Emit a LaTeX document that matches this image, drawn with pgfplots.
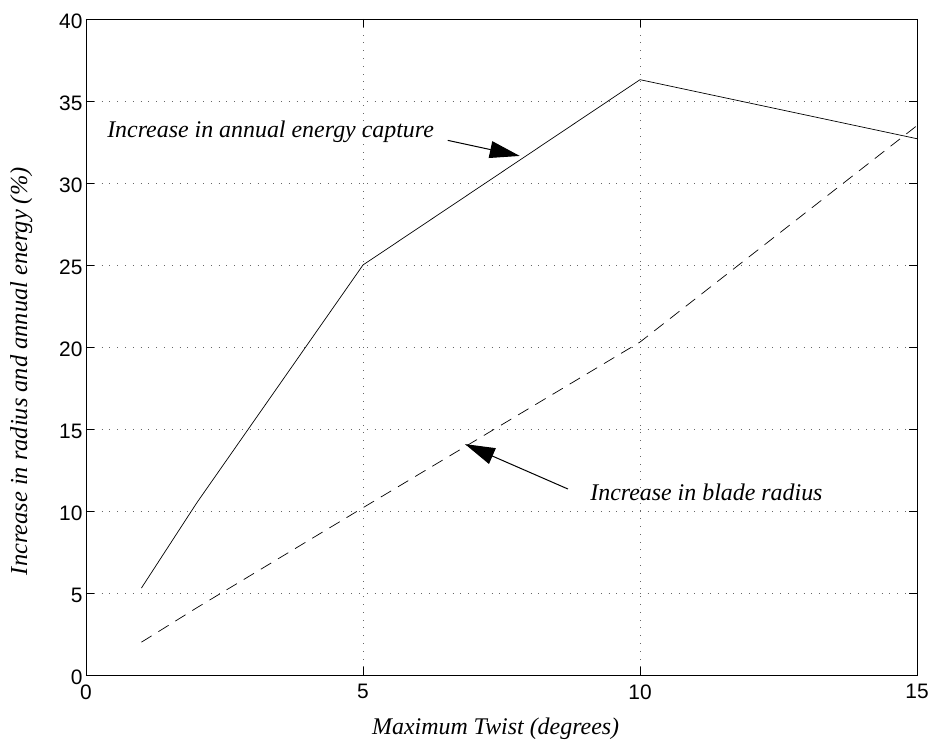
\documentclass[border=0pt]{standalone}
\usepackage{pgfplots}
\pgfplotsset{compat=1.18}
\usepackage{fontspec}
\setmainfont{Liberation Serif}
\newfontfamily\hv{Liberation Sans}
\usetikzlibrary{arrows.meta}
\begin{document}
\begin{tikzpicture}
\begin{axis}[
  scale only axis,
  width=831bp, height=656bp,
  xmin=0, xmax=15, ymin=0, ymax=40,
  xtick={0,5,10,15}, ytick={0,5,...,40},
  tick align=inside,
  major tick length=8bp,
  tick style={black, line width=0.6bp},
  axis line style={line width=0.8bp},
  grid=major,
  major grid style={black!60, dash pattern=on 0.8bp off 7bp, line width=0.8bp},
  /pgf/number format/assume math mode=true,
  ticklabel style={font=\hv\fontsize{21}{23}\selectfont},
  xticklabel style={yshift=-6bp},
  yticklabel style={yshift=-2bp},
  xlabel={\itshape Maximum Twist (degrees)},
  ylabel={\itshape Increase in radius and annual energy (\%)},
  every axis x label/.style={at={(axis description cs:0.493,-0.09)}, anchor=base, font=\fontsize{24}{26}\selectfont},
  every axis y label/.style={at={(axis description cs:-0.078,0.463)}, anchor=center, rotate=90, font=\fontsize{24.5}{26}\selectfont},
]
\addplot[black, line width=0.7bp] coordinates {(1,5.3) (2,10.5) (5,25.0) (10,36.3) (15,32.7)};
\addplot[black, line width=0.7bp, dash pattern=on 12bp off 8bp] coordinates {(1,2.0) (2,4.1) (5,10.2) (10,20.3) (15,33.5)};
\node[anchor=base west, font=\itshape\fontsize{24}{26}\selectfont, inner sep=0pt] at (axis cs:0.38,32.8) {Increase in annual energy capture};
\draw[line width=1bp, -{Triangle[length=30bp,width=17bp]}] (axis cs:6.53,32.6) -- (axis cs:7.83,31.65);
\node[anchor=base west, font=\itshape\fontsize{24}{26}\selectfont, inner sep=0pt] at (axis cs:9.1,10.67) {Increase in blade radius};
\draw[line width=1bp, -{Triangle[length=30bp,width=17bp]}] (axis cs:8.7,11.34) -- (axis cs:6.84,14.08);
\end{axis}
\pgfresetboundingbox
\path (current axis.south west) ++(-86bp,-71bp) coordinate (bl);
\path (current axis.north east) ++(20bp,19bp) coordinate (tr);
\path[use as bounding box] (bl) rectangle (tr);
\end{tikzpicture}
\end{document}
